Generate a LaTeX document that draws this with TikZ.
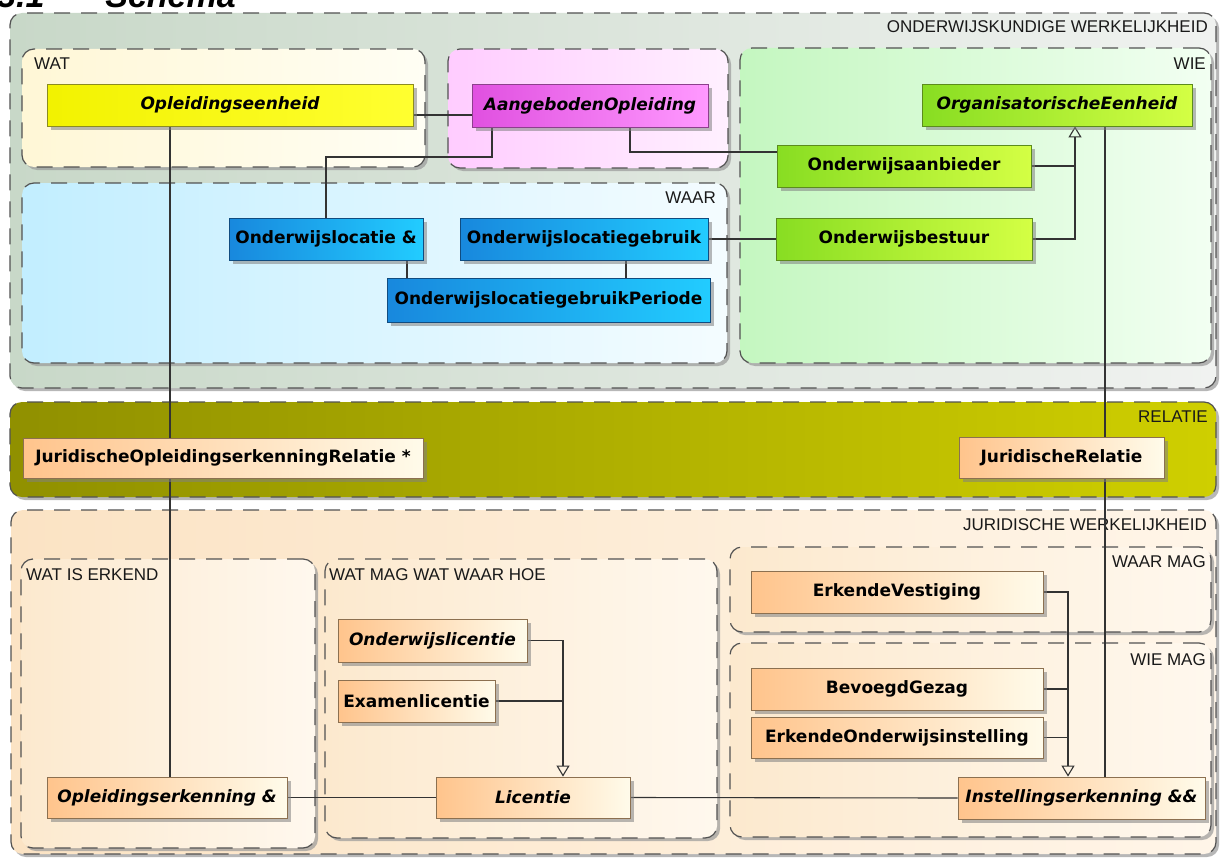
\documentclass[tikz,border=0pt]{standalone}
\usepackage{fontspec}
\setmainfont{DejaVu Sans}
\newfontfamily\grpfont{Liberation Sans}
\newfontfamily\ttlfont{Liberation Sans}
\usetikzlibrary{shadows,arrows.meta,calc}
\pgfdeclarelayer{bglayer}
\pgfdeclarelayer{midlayer}
\pgfsetlayers{bglayer,midlayer,main}

\definecolor{owkL}{HTML}{C8D8C8}\definecolor{owkR}{HTML}{F0F2F0}
\definecolor{watL}{HTML}{FFF7D6}\definecolor{watR}{HTML}{FFFEF4}
\definecolor{aoL}{HTML}{FFCCFF}\definecolor{aoR}{HTML}{FFF0FF}
\definecolor{wieL}{HTML}{C4F7C0}\definecolor{wieR}{HTML}{F2FFF2}
\definecolor{waarL}{HTML}{C2EEFF}\definecolor{waarR}{HTML}{F4FCFF}
\definecolor{relL}{HTML}{909000}\definecolor{relR}{HTML}{CFCF00}
\definecolor{jurL}{HTML}{FBE3C4}\definecolor{jurR}{HTML}{FFF5E8}
\definecolor{subL}{HTML}{FCE9CE}\definecolor{subR}{HTML}{FFF8EE}
\definecolor{yelL}{HTML}{F2F200}\definecolor{yelR}{HTML}{FFFF30}\definecolor{yelD}{HTML}{8C8C20}
\definecolor{magL}{HTML}{E050E0}\definecolor{magR}{HTML}{FF99FF}\definecolor{magD}{HTML}{8C408C}
\definecolor{grnL}{HTML}{88DD22}\definecolor{grnR}{HTML}{D4FF44}\definecolor{grnD}{HTML}{5C8C1C}
\definecolor{bluL}{HTML}{1888DD}\definecolor{bluR}{HTML}{22CCFF}\definecolor{bluD}{HTML}{104C80}
\definecolor{pchL}{HTML}{FFC48C}\definecolor{pchR}{HTML}{FFFBEA}\definecolor{pchD}{HTML}{8C7050}
\definecolor{lineC}{HTML}{333333}

\tikzset{
  grpbox/.style={rectangle, rounded corners=12pt, draw=black!68, line width=1.2pt,
     dash pattern=on 16pt off 11pt, inner sep=0pt,
     drop shadow={shadow xshift=3pt, shadow yshift=-3pt, fill=black!40, opacity=0.7}},
  grplabel/.style={font=\grpfont\fontsize{17}{19}\selectfont, text=black!90, inner sep=0pt},
  clsbox/.style={rectangle, line width=0.8pt, inner sep=3pt,
     font=\bfseries\fontsize{17}{20}\selectfont,
     drop shadow={shadow xshift=4pt, shadow yshift=-4pt, fill=black!50, opacity=0.55}},
  absbox/.style={clsbox, font=\bfseries\itshape\fontsize{17}{20}\selectfont},
  kyel/.style={left color=yelL, right color=yelR, draw=yelD},
  kmag/.style={left color=magL, right color=magR, draw=magD},
  kgrn/.style={left color=grnL, right color=grnR, draw=grnD},
  kblu/.style={left color=bluL, right color=bluR, draw=bluD},
  kpch/.style={left color=pchL, right color=pchR, draw=pchD},
  conn/.style={draw=lineC, line width=1.1pt},
  gen/.style={conn, -{Triangle[open, width=13pt, length=11pt]}}
}

\begin{document}
\begin{tikzpicture}[x=1pt, y=-1pt]
\useasboundingbox (0,0) rectangle (1220,859);

\begin{pgfonlayer}{bglayer}
\fill[white] (0,0) rectangle (1220,859);
% title (cut off at the top, as in the reference)
\begin{scope}
\clip (0,0) rectangle (1220,859);
\node[anchor=base west, inner sep=0pt, font=\ttlfont\bfseries\itshape\fontsize{34}{40}\selectfont] (ttl) at (-3,8) {3.1\hspace{21pt}–\hspace{21pt}Schema};
\end{scope}

% ---------- groups ----------
\node[grpbox, left color=owkL, right color=owkR, minimum width=1206pt, minimum height=375pt] (owk) at (613,200.5) {};
\node[grpbox, left color=watL, right color=watR, minimum width=403pt, minimum height=118pt] (gwat) at (223.5,108) {};
\node[grpbox, left color=aoL, right color=aoR, minimum width=280pt, minimum height=119pt] (gao) at (588,108.5) {};
\node[grpbox, left color=wieL, right color=wieR, minimum width=471pt, minimum height=315pt] (gwie) at (975.5,205.5) {};
\node[grpbox, left color=waarL, right color=waarR, minimum width=705pt, minimum height=180pt] (gwaar) at (374.5,273) {};
\node[grpbox, left color=relL, right color=relR, minimum width=1206pt, minimum height=95pt] (grel) at (613,449.5) {};
\node[grpbox, left color=jurL, right color=jurR, minimum width=1205pt, minimum height=344pt] (gjur) at (613.5,682) {};
\node[grpbox, left color=subL, right color=subR, minimum width=294pt, minimum height=289pt] (gerk) at (168,703.5) {};
\node[grpbox, left color=subL, right color=subR, minimum width=392pt, minimum height=279pt] (gmag) at (521,698.5) {};
\node[grpbox, left color=subL, right color=subR, minimum width=481pt, minimum height=85pt] (gwm) at (970.5,589.5) {};
\node[grpbox, left color=subL, right color=subR, minimum width=481pt, minimum height=194pt] (gwim) at (970.5,740) {};

% group labels
\node[grplabel, anchor=east] (lowk) at (1208,27) {ONDERWIJSKUNDIGE WERKELIJKHEID};
\node[grplabel, anchor=west] (lwat) at (34,64) {WAT};
\node[grplabel, anchor=east] (lwie) at (1206,64) {WIE};
\node[grplabel, anchor=east] (lwaar) at (716,198) {WAAR};
\node[grplabel, anchor=east] (lrel) at (1208,417) {RELATIE};
\node[grplabel, anchor=east] (ljur) at (1207,525) {JURIDISCHE WERKELIJKHEID};
\node[grplabel, anchor=west] (lerk) at (26,575) {WAT IS ERKEND};
\node[grplabel, anchor=west] (lmag) at (329,575) {WAT MAG WAT WAAR HOE};
\node[grplabel, anchor=east] (lwm) at (1206,562) {WAAR MAG};
\node[grplabel, anchor=east] (lwim) at (1206,660) {WIE MAG};
\end{pgfonlayer}

% ---------- class boxes ----------
\path
  (230,105)    node[absbox, kyel, minimum width=366pt, minimum height=42pt] (oe) {Opleidingseenheid}
  (590,105.5)  node[absbox, kmag, minimum width=236pt, minimum height=43pt] (ao) {AangebodenOpleiding}
  (1057,105)   node[absbox, kgrn, minimum width=270pt, minimum height=42pt] (oeh) {OrganisatorischeEenheid}
  (904,166)    node[clsbox, kgrn, minimum width=254pt, minimum height=42pt] (aanb) {Onderwijsaanbieder}
  (904,239)    node[clsbox, kgrn, minimum width=256pt, minimum height=42pt] (best) {Onderwijsbestuur}
  (326,239)    node[clsbox, kblu, minimum width=194pt, minimum height=42pt] (loc) {Onderwijslocatie \&}
  (584,239)    node[clsbox, kblu, minimum width=248pt, minimum height=42pt] (gebr) {Onderwijslocatiegebruik}
  (548.5,300)  node[clsbox, kblu, minimum width=323pt, minimum height=44pt] (per) {OnderwijslocatiegebruikPeriode}
  (223,458)    node[clsbox, kpch, minimum width=400pt, minimum height=40pt] (jor) {JuridischeOpleidingserkenningRelatie *}
  (1061.5,457.5) node[clsbox, kpch, minimum width=205pt, minimum height=41pt] (jr) {JuridischeRelatie}
  (432.5,640.5) node[absbox, kpch, minimum width=189pt, minimum height=43pt] (onl) {Onderwijslicentie}
  (416.5,701)  node[clsbox, kpch, minimum width=157pt, minimum height=42pt] (exl) {Examenlicentie}
  (167,797.5)  node[absbox, kpch, minimum width=240pt, minimum height=41pt] (oerk) {Opleidingserkenning \&}
  (533,797.5)  node[absbox, kpch, minimum width=194pt, minimum height=41pt] (lic) {Licentie}
  (897,592)    node[clsbox, kpch, minimum width=292pt, minimum height=42pt] (ev) {ErkendeVestiging}
  (897,689)    node[clsbox, kpch, minimum width=292pt, minimum height=42pt] (bg) {BevoegdGezag}
  (897,737.5)  node[clsbox, kpch, minimum width=292pt, minimum height=41pt] (eoi) {ErkendeOnderwijsinstelling}
  (1081.5,798) node[absbox, kpch, minimum width=247pt, minimum height=42pt] (inst) {Instellingserkenning \&\&};

% routing helpers
\coordinate (h1) at (440,115);
\coordinate (b1) at (492,157);
\coordinate (b2) at (630,152);
\coordinate (g1) at (1075,0);
\coordinate (c407) at (407,0);
\coordinate (c626) at (626,0);
\coordinate (c1105) at (1105,0);
\coordinate (c170) at (170,0);
\coordinate (g2) at (563,0);
\coordinate (g3) at (1068,0);

% ---------- connectors (below the boxes) ----------
\begin{pgfonlayer}{midlayer}
\draw[conn] (oe.east |- h1) -- (ao.west |- h1);
\draw[conn] (ao.south -| b1) -- (b1) -| (loc.north);
\draw[conn] (ao.south -| b2) |- (aanb.west |- b2);
\draw[gen] (aanb.east) -| (oeh.south -| g1);
\draw[conn] (best.east) -| (aanb.east -| g1);
\draw[conn] (gebr.east) -- (best.west);
\draw[conn] (loc.south -| c407) -- (per.north -| c407);
\draw[conn] (gebr.south -| c626) -- (per.north -| c626);
\draw[conn] (oeh.south -| c1105) -- (inst.north -| c1105);
\draw[conn] (oe.south -| c170) -- (oerk.north -| c170);
\draw[gen] (onl.east) -| (lic.north -| g2);
\draw[conn] (exl.east) -| (onl.east -| g2);
\draw[conn] (oerk.east) -- (lic.west);
\draw[conn] (lic.east) -- (inst.west);
\draw[gen] (ev.east) -| (inst.north -| g3);
\draw[conn] (bg.east) -| (ev.east -| g3);
\draw[conn] (eoi.east) -| (ev.east -| g3);
\end{pgfonlayer}
\end{tikzpicture}
\end{document}
